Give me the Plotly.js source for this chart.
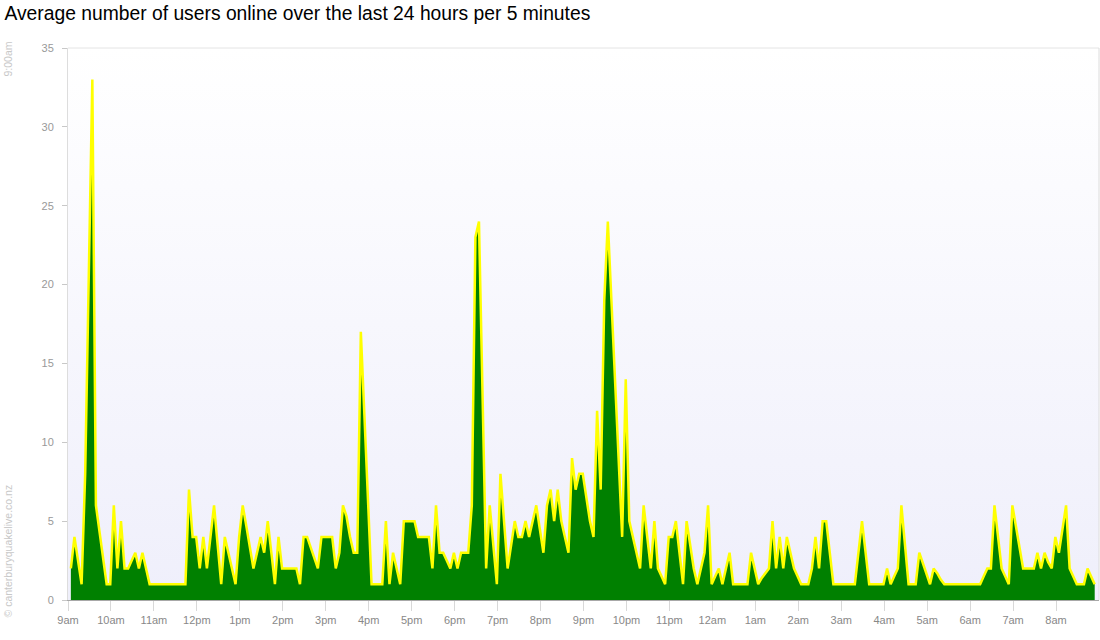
<!DOCTYPE html>
<html>
<head>
<meta charset="utf-8">
<script src="https://cdn.plot.ly/plotly-3.0.1.min.js"></script>
<style>
  html, body { margin: 0; padding: 0; background: #ffffff; }
  #chart { width: 1100px; height: 640px; }
</style>
</head>
<body>
<div id="chart"></div>
<script>
// Average users online, one value per 5 minutes, starting 09:04
const usersOnline = [
  2, 4, 2.5, 1, 8, 21, 33, 6, 4.3, 2.7, 1, 1,            // 9am
  6, 2, 5, 2, 2, 2.5, 3, 2, 3, 2, 1, 1,                  // 10am
  1, 1, 1, 1, 1, 1, 1, 1, 1, 7, 4, 4,                    // 11am
  2, 4, 2, 4, 6, 3.5, 1, 4, 3, 2, 1, 4,                  // 12pm
  6, 4.7, 3.3, 2, 3, 4, 3, 5, 3, 1, 4, 2,                // 1pm
  2, 2, 2, 2, 1, 4, 4, 3.3, 2.7, 2, 4, 4,                // 2pm
  4, 4, 2, 3, 6, 5.3, 4, 3, 3, 17, 11.7, 6.3,            // 3pm
  1, 1, 1, 1, 5, 1, 3, 2, 1, 5, 5, 5,                    // 4pm
  5, 4, 4, 4, 4, 2, 6, 3, 3, 2.5, 2, 3,                  // 5pm
  2, 3, 3, 3, 6, 23, 24, 13, 2, 6, 3.5, 1,               // 6pm
  8, 5, 2, 3.5, 5, 4, 4, 5, 4, 5, 6, 4.5,                // 7pm
  3, 6, 7, 5, 7, 5, 4, 3, 9, 7, 8, 8,                    // 8pm
  6.5, 5, 4, 12, 7, 19, 24, 19, 14, 9, 4, 14,            // 9pm
  5, 4, 3, 2, 6, 4, 2, 5, 2, 1.5, 1, 4,                  // 10pm
  4, 5, 3, 1, 5, 3.5, 2, 1, 2, 3, 6, 1,                  // 11pm
  1.5, 2, 1, 2, 3, 1, 1, 1, 1, 1, 3, 2,                  // 12am
  1, 1.4, 1.7, 2, 5, 2, 4, 2, 4, 3, 2, 1.5,              // 1am
  1, 1, 1, 2, 4, 2, 5, 5, 3, 1, 1, 1,                    // 2am
  1, 1, 1, 1, 3, 5, 3, 1, 1, 1, 1, 1,                    // 3am
  2, 1, 1.5, 2, 6, 3.5, 1, 1, 1, 3, 2.3, 1.7,            // 4am
  1, 2, 1.7, 1.3, 1, 1, 1, 1, 1, 1, 1, 1,                // 5am
  1, 1, 1, 1.5, 2, 2, 6, 4, 2, 1.5, 1, 6,                // 6am
  4.7, 3.3, 2, 2, 2, 2, 3, 2, 3, 2.4, 2, 4,              // 7am
  3, 4.5, 6, 2, 1.5, 1, 1, 1, 2, 1.5, 1                  // 8am
];

const hourLabels = ["9am","10am","11am","12pm","1pm","2pm","3pm","4pm","5pm","6pm","7pm","8pm",
                    "9pm","10pm","11pm","12am","1am","2am","3am","4am","5am","6am","7am","8am"];

const startTime = Date.UTC(2012, 1, 22, 9, 4, 0);   // first sample
const rangeStart = Date.UTC(2012, 1, 22, 9, 0, 0);
const stepMinutes = 5;

function fmt(ms) {
  const d = new Date(ms);
  const p = n => String(n).padStart(2, "0");
  return d.getUTCFullYear() + "-" + p(d.getUTCMonth() + 1) + "-" + p(d.getUTCDate()) + " " +
         p(d.getUTCHours()) + ":" + p(d.getUTCMinutes()) + ":" + p(d.getUTCSeconds());
}

const times = usersOnline.map((_, i) => fmt(startTime + i * stepMinutes * 60000));
const tickVals = hourLabels.map((_, h) => fmt(rangeStart + h * 3600000));

const bgSvg = '<svg xmlns="http://www.w3.org/2000/svg" width="10" height="100" viewBox="0 0 10 100" preserveAspectRatio="none">' +
  '<defs><linearGradient id="g" x1="0" y1="0" x2="0" y2="1">' +
  '<stop offset="0" stop-color="#ffffff"/><stop offset="1" stop-color="#efeffb"/>' +
  '</linearGradient></defs><rect width="10" height="100" fill="url(#g)"/></svg>';

const trace = {
  x: times,
  y: usersOnline,
  type: "scatter",
  mode: "lines",
  fill: "tozeroy",
  fillcolor: "#008000",
  line: { color: "#ffff00", width: 2.5, shape: "linear" },
  hoverinfo: "skip",
  showlegend: false
};

const layout = {
  width: 1100,
  height: 640,
  margin: { l: 68, r: 1, t: 48, b: 40 },
  paper_bgcolor: "#ffffff",
  plot_bgcolor: "rgba(0,0,0,0)",
  font: { family: "Liberation Sans, Arial, sans-serif" },
  title: {
    text: "Average number of users online over the last 24 hours per 5 minutes",
    font: { family: "Liberation Sans, Arial, sans-serif", size: 19.3, color: "#000000" },
    x: 0.004, xref: "container", xanchor: "left",
    y: 1 - 13 / 640, yref: "container", yanchor: "middle"
  },
  xaxis: {
    type: "date",
    range: [fmt(rangeStart), fmt(rangeStart + 24 * 3600000)],
    tickmode: "array",
    tickvals: tickVals,
    ticktext: hourLabels,
    ticks: "outside",
    ticklen: 10,
    tickcolor: "#d8d8d8",
    tickfont: { size: 11, color: "#888888" },
    showline: true,
    linecolor: "#a8a8a8",
    linewidth: 1,
    showgrid: false,
    zeroline: false,
    fixedrange: true
  },
  yaxis: {
    range: [0, 35],
    tickmode: "linear",
    tick0: 0,
    dtick: 5,
    ticks: "outside",
    ticklen: 5,
    tickcolor: "#c8c8c8",
    tickfont: { size: 11, color: "#999999" },
    ticklabelstandoff: 6,
    showline: true,
    linecolor: "#dddddd",
    showgrid: false,
    zeroline: false,
    fixedrange: true
  },
  images: [{
    source: "data:image/svg+xml;charset=utf-8," + encodeURIComponent(bgSvg),
    xref: "paper", yref: "paper",
    x: 0, y: 1, sizex: 1, sizey: 1,
    xanchor: "left", yanchor: "top",
    sizing: "stretch", layer: "below"
  }],
  shapes: [
    { type: "line", xref: "paper", yref: "paper", x0: 0, x1: 1, y0: 1, y1: 1,
      line: { color: "#e4e4e4", width: 1 } },
    { type: "line", xref: "paper", yref: "paper", x0: 1, x1: 1, y0: 0, y1: 1,
      line: { color: "#dcdcdc", width: 1 } }
  ],
  annotations: [
    { text: "9:00am", xref: "paper", yref: "paper", x: 0, y: 1,
      xanchor: "center", yanchor: "top", xshift: -61, yshift: 8,
      textangle: -90, showarrow: false,
      font: { size: 10.5, color: "#c8c8c8" } },
    { text: "© canterburyquakelive.co.nz", xref: "paper", yref: "paper", x: 0, y: 0,
      xanchor: "center", yanchor: "bottom", xshift: -61, yshift: -20,
      textangle: -90, showarrow: false,
      font: { size: 10.5, color: "#c8c8c8" } }
  ]
};

Plotly.newPlot("chart", [trace], layout, { displayModeBar: false, staticPlot: true });
</script>
</body>
</html>
